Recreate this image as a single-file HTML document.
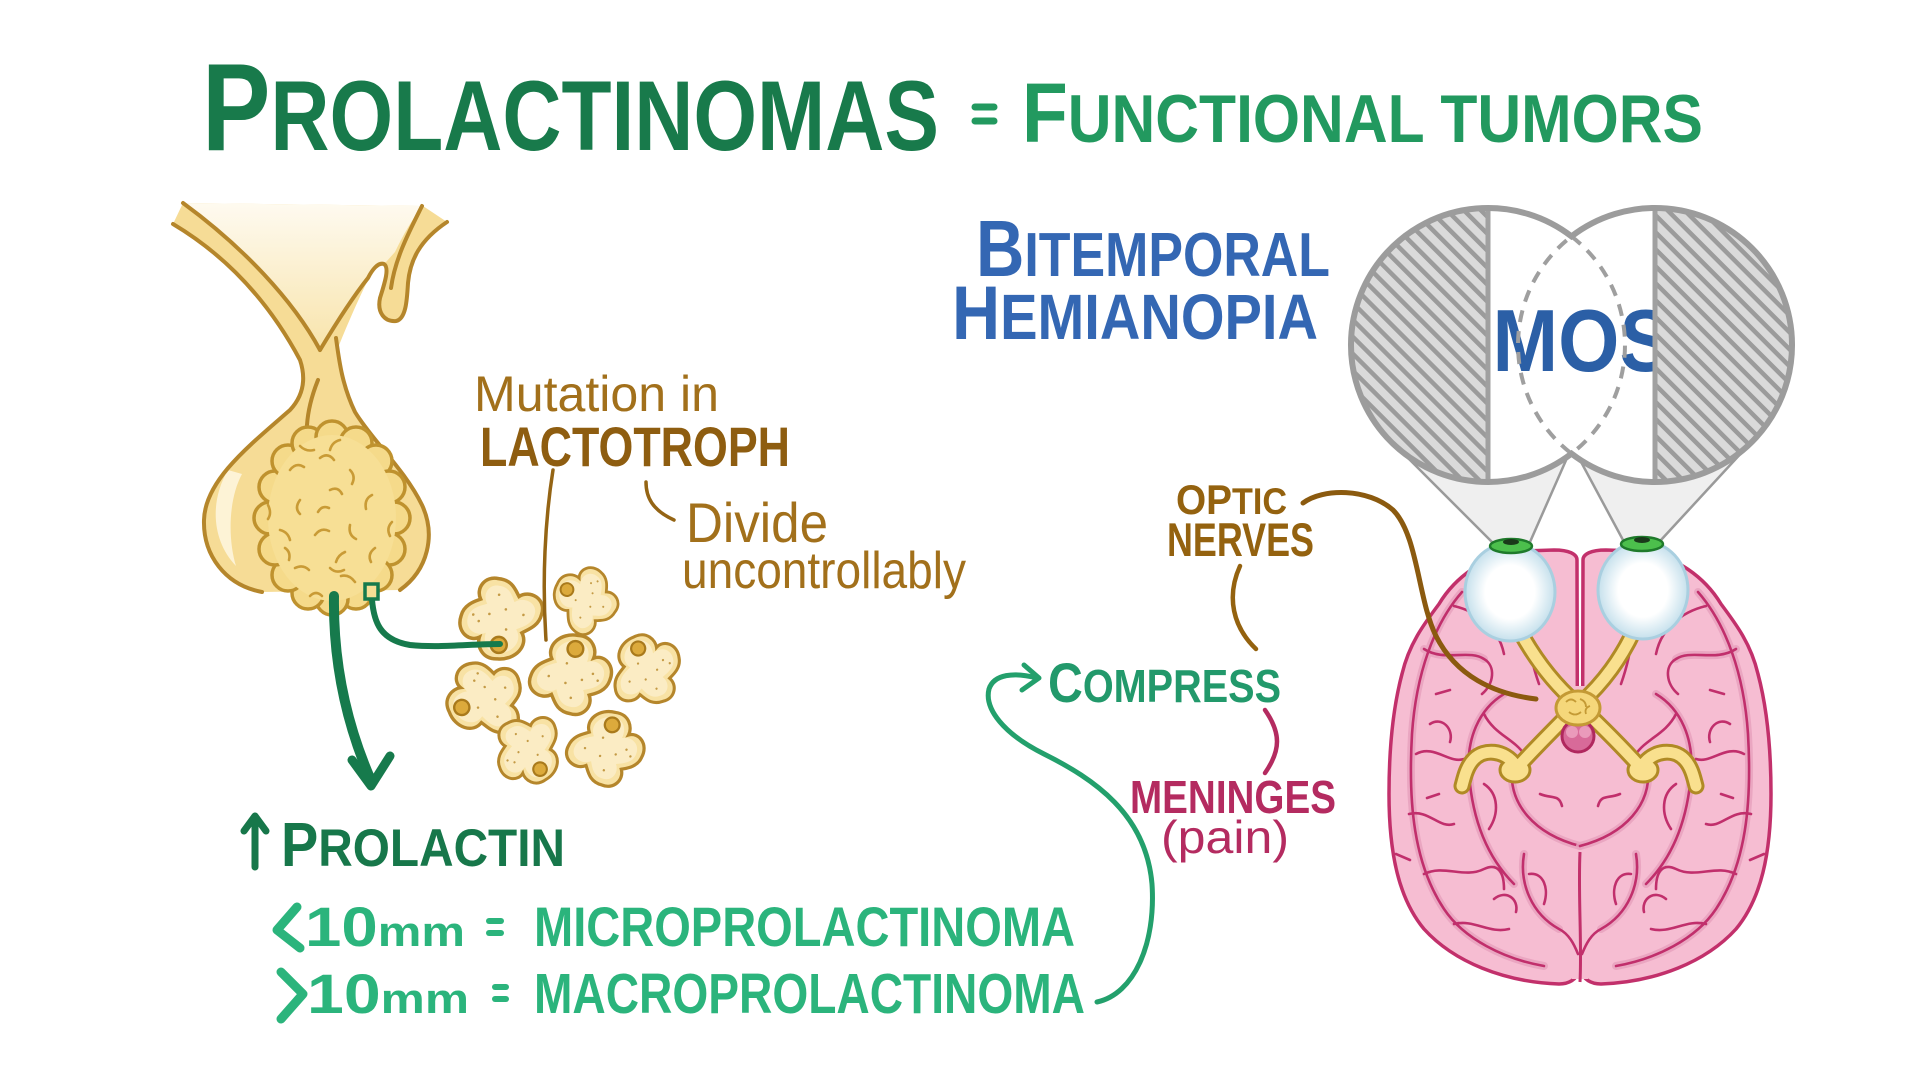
<!DOCTYPE html>
<html>
<head>
<meta charset="utf-8">
<style>
html,body{margin:0;padding:0;background:#ffffff;}
svg{display:block;}
text{font-family:"Liberation Sans",sans-serif;}
</style>
</head>
<body>
<svg width="1920" height="1080" viewBox="0 0 1920 1080" xmlns="http://www.w3.org/2000/svg">
<defs>
  <pattern id="hatch" patternUnits="userSpaceOnUse" width="12" height="12" patternTransform="rotate(45)">
    <rect width="12" height="12" fill="#dadada"/>
    <rect width="12" height="4.5" fill="#9b9b9b"/>
  </pattern>
  <linearGradient id="funnel" x1="0" y1="0" x2="0" y2="1">
    <stop offset="0" stop-color="#fefaf0"/>
    <stop offset="1" stop-color="#f8e4ab"/>
  </linearGradient>
  <radialGradient id="eyeg">
    <stop offset="0.55" stop-color="#ffffff"/>
    <stop offset="1" stop-color="#c5e0ec"/>
  </radialGradient>
  <g id="cell">
    <path d="M0,-40 C16,-42 22,-28 20,-20 C30,-26 44,-16 40,0 C38,12 26,16 22,18 C28,28 20,42 6,40 C-8,40 -12,30 -16,24 C-26,32 -44,24 -40,8 C-38,-4 -28,-8 -22,-12 C-30,-24 -18,-40 0,-40 Z" fill="#f8e2a4" stroke="#b5862b" stroke-width="3.5"/>
    <path d="M0,-34 C12,-35 16,-24 14,-15 C24,-20 36,-13 33,0 C31,9 20,12 15,14 C21,23 15,34 5,33 C-6,33 -9,24 -12,18 C-21,25 -36,19 -33,7 C-31,-3 -22,-6 -16,-9 C-24,-20 -14,-34 0,-34 Z" fill="#fbecc4"/>
    <circle cx="-6" cy="-10" r="1.3" fill="#c49a45"/>
    <circle cx="22" cy="-4" r="1.3" fill="#c49a45"/>
    <circle cx="-22" cy="6" r="1.3" fill="#c49a45"/>
    <circle cx="4" cy="24" r="1.3" fill="#c49a45"/>
    <circle cx="12" cy="4" r="1.3" fill="#c49a45"/>
    <circle cx="-4" cy="10" r="1.3" fill="#c49a45"/>
    <circle cx="28" cy="2" r="1.3" fill="#c49a45"/>
    <circle cx="0" cy="-26" r="8" fill="#dcaa3c" stroke="#a97a1c" stroke-width="2.5"/>
  </g>
  <clipPath id="midclip"><rect x="1504" y="200" width="167" height="290"/></clipPath>
</defs>

<!-- ================= TITLE ================= -->
<text x="202" y="150" textLength="737" lengthAdjust="spacingAndGlyphs" font-weight="bold" fill="#187a4b"><tspan font-size="124">P</tspan><tspan font-size="99">ROLACTINOMAS</tspan></text>
<line x1="975" y1="107" x2="994" y2="107" stroke="#22995f" stroke-width="7" stroke-linecap="round"/>
<line x1="975" y1="121" x2="994" y2="121" stroke="#22995f" stroke-width="7" stroke-linecap="round"/>
<text x="1022" y="142" textLength="681" lengthAdjust="spacingAndGlyphs" font-weight="bold" fill="#22995f"><tspan font-size="84">F</tspan><tspan font-size="68">UNCTIONAL TUMORS</tspan></text>

<!-- ================= PITUITARY ================= -->
<path d="M173,224 C225,255 268,300 300,360 C306,378 304,395 290,410 C250,445 205,480 204,520 C203,555 225,585 262,592 L400,590 C428,570 436,535 422,505 C405,470 372,440 355,412 C344,392 340,372 338,348 C345,330 358,300 368,280 C372,270 378,262 384,264 C390,268 384,285 380,298 C377,312 384,322 396,321 C406,319 407,300 408,283 C410,260 420,240 447,222 L423,206 L183,203 Z" fill="#f6dc96"/>
<path d="M183,203 C243,247 293,300 320,350 C335,325 352,298 368,278 C374,270 380,264 386,262 L395,252 C403,235 412,220 422,206 Z" fill="url(#funnel)"/>
<path d="M228,470 C210,500 211,540 236,566 C228,540 228,500 242,474 Z" fill="#fdf3d6"/>
<g fill="none" stroke="#b5862b" stroke-width="4" stroke-linecap="round" stroke-linejoin="round">
  <path d="M173,224 C225,255 268,300 300,360 C306,378 304,395 290,410 C250,445 205,480 204,520 C203,555 225,585 262,592"/>
  <path d="M183,203 C243,247 293,300 320,350"/>
  <path d="M320,350 C335,325 352,298 368,278 C372,270 378,262 384,264 C390,268 384,285 380,298 C377,312 384,322 396,321 C406,319 407,300 408,283 C410,260 420,240 447,222"/>
  <path d="M336,338 C339,360 342,385 355,412 C372,440 405,470 422,505 C436,535 428,570 400,590"/>
  <path d="M422,206 C410,230 395,258 391,288"/>
  <path d="M318,380 C312,395 308,410 307,425"/>
</g>

<!-- tumor -->
<g fill="#f5da8a" stroke="#bf922e" stroke-width="3.5">
  <circle cx="394" cy="518" r="16"/><circle cx="389" cy="549" r="16"/><circle cx="376" cy="575" r="16"/><circle cx="356" cy="593" r="16"/>
  <circle cx="332" cy="599" r="16"/><circle cx="308" cy="593" r="16"/><circle cx="288" cy="575" r="16"/><circle cx="275" cy="549" r="16"/>
  <circle cx="270" cy="518" r="16"/><circle cx="275" cy="487" r="16"/><circle cx="288" cy="461" r="16"/><circle cx="308" cy="443" r="16"/>
  <circle cx="332" cy="437" r="16"/><circle cx="356" cy="443" r="16"/><circle cx="376" cy="461" r="16"/><circle cx="389" cy="487" r="16"/>
</g>
<ellipse cx="332" cy="518" rx="64" ry="83" fill="#f7df95"/>
<g fill="none" stroke="#c99b36" stroke-width="2.6" stroke-linecap="round">
  <path d="M290,470 q6,-8 14,-3"/><path d="M320,458 q8,-6 14,2"/><path d="M350,470 q6,6 2,14"/>
  <path d="M372,495 q-8,4 -6,14"/><path d="M300,500 q-6,8 0,14"/><path d="M330,490 q8,-4 12,4"/>
  <path d="M280,530 q8,2 10,10"/><path d="M315,535 q6,-8 14,-4"/><path d="M350,525 q-2,10 6,14"/>
  <path d="M375,548 q-8,6 -4,14"/><path d="M295,568 q8,-4 14,2"/><path d="M330,568 q6,6 14,2"/>
  <path d="M355,582 q-6,-8 -14,-6"/><path d="M310,596 q6,-6 12,0"/><path d="M268,505 q4,8 0,14"/>
  <path d="M392,522 q-6,6 -2,14"/><path d="M340,440 q-8,2 -10,10"/><path d="M300,446 q6,6 14,4"/>
  <path d="M318,512 q4,-7 11,-4"/><path d="M345,552 q-7,3 -9,10"/><path d="M285,548 q6,4 4,12"/>
</g>

<!-- green arrow + link -->
<path d="M334,596 C333,660 345,720 370,778" fill="none" stroke="#167a4c" stroke-width="10" stroke-linecap="round"/>
<path d="M352,760 L371,786 L390,756" fill="none" stroke="#167a4c" stroke-width="9" stroke-linecap="round" stroke-linejoin="round"/>

<!-- cells -->
<g transform="translate(485,699) rotate(250) scale(0.95)"><use href="#cell"/></g>
<g transform="translate(529,750) rotate(150) scale(0.85)"><use href="#cell"/></g>
<g transform="translate(606,748) rotate(15) scale(0.92)"><use href="#cell"/></g>
<g transform="translate(646,670) rotate(-20) scale(0.88)"><use href="#cell"/></g>
<g transform="translate(571,674) rotate(10) scale(0.98)"><use href="#cell"/></g>
<g transform="translate(585,600) rotate(-60) scale(0.8)"><use href="#cell"/></g>
<g transform="translate(501,619) rotate(185)"><use href="#cell"/></g>

<path d="M372,600 C374,622 380,640 410,645 C440,648 470,644 500,644" fill="none" stroke="#167a4c" stroke-width="6" stroke-linecap="round"/>
<rect x="365" y="584" width="13" height="15" fill="#f7df95" stroke="#167a4c" stroke-width="3.5"/>

<!-- brown label lines -->
<path d="M553,470 C545,520 542,580 546,640" fill="none" stroke="#946414" stroke-width="3.5" stroke-linecap="round"/>
<path d="M646,482 C646,497 652,510 674,520" fill="none" stroke="#946414" stroke-width="3.5" stroke-linecap="round"/>

<!-- labels left -->
<text x="474" y="411" font-size="50" textLength="245" lengthAdjust="spacingAndGlyphs" fill="#a2701b">Mutation in</text>
<text x="480" y="466" font-size="56" font-weight="bold" textLength="310" lengthAdjust="spacingAndGlyphs" fill="#8e5d10">LACTOTROPH</text>
<text x="686" y="542" font-size="56" textLength="142" lengthAdjust="spacingAndGlyphs" fill="#a2701b">Divide</text>
<text x="682" y="588" font-size="52" textLength="284" lengthAdjust="spacingAndGlyphs" fill="#a2701b">uncontrollably</text>

<!-- bottom-left -->
<path d="M255,867 L255,817 M244,831 L255,816 L266,831" fill="none" stroke="#17774a" stroke-width="7" stroke-linecap="round" stroke-linejoin="round"/>
<text x="281" y="866" textLength="284" lengthAdjust="spacingAndGlyphs" font-weight="bold" fill="#17774a"><tspan font-size="62">P</tspan><tspan font-size="53">ROLACTIN</tspan></text>

<path d="M297,907 L277,930 L300,948" fill="none" stroke="#2bb47c" stroke-width="9" stroke-linecap="round" stroke-linejoin="round"/>
<text x="305" y="946" textLength="160" lengthAdjust="spacingAndGlyphs" font-weight="bold" fill="#2bb47c"><tspan font-size="56">10</tspan><tspan font-size="42">mm</tspan></text>
<line x1="489" y1="921" x2="501" y2="921" stroke="#2bb47c" stroke-width="6" stroke-linecap="round"/>
<line x1="489" y1="933" x2="501" y2="933" stroke="#2bb47c" stroke-width="6" stroke-linecap="round"/>
<text x="534" y="946" font-size="56" font-weight="bold" textLength="541" lengthAdjust="spacingAndGlyphs" fill="#2bb47c">MICROPROLACTINOMA</text>

<path d="M281,972 L303,994 L281,1019" fill="none" stroke="#2bb47c" stroke-width="9" stroke-linecap="round" stroke-linejoin="round"/>
<text x="307" y="1013" textLength="162" lengthAdjust="spacingAndGlyphs" font-weight="bold" fill="#2bb47c"><tspan font-size="56">10</tspan><tspan font-size="42">mm</tspan></text>
<line x1="495" y1="987" x2="506" y2="987" stroke="#2bb47c" stroke-width="6" stroke-linecap="round"/>
<line x1="495" y1="999" x2="506" y2="999" stroke="#2bb47c" stroke-width="6" stroke-linecap="round"/>
<text x="534" y="1013" font-size="57" font-weight="bold" textLength="551" lengthAdjust="spacingAndGlyphs" fill="#2bb47c">MACROPROLACTINOMA</text>

<!-- ================= MIDDLE LABELS ================= -->
<text x="976" y="276" textLength="354" lengthAdjust="spacingAndGlyphs" font-weight="bold" fill="#3467b3"><tspan font-size="80">B</tspan><tspan font-size="62">ITEMPORAL</tspan></text>
<text x="952" y="339" textLength="366" lengthAdjust="spacingAndGlyphs" font-weight="bold" fill="#3467b3"><tspan font-size="76">H</tspan><tspan font-size="64">EMIANOPIA</tspan></text>

<text x="1176" y="514" textLength="111" lengthAdjust="spacingAndGlyphs" font-weight="bold" fill="#94620f"><tspan font-size="42">OP</tspan><tspan font-size="37">TIC</tspan></text>
<text x="1167" y="556" font-size="47" font-weight="bold" textLength="147" lengthAdjust="spacingAndGlyphs" fill="#94620f">NERVES</text>
<path d="M1240,566 C1226,597 1233,627 1256,649" fill="none" stroke="#94620f" stroke-width="4.5" stroke-linecap="round"/>

<text x="1048" y="702" textLength="233" lengthAdjust="spacingAndGlyphs" font-weight="bold" fill="#22996b"><tspan font-size="56">C</tspan><tspan font-size="46">OMPRESS</tspan></text>
<path d="M1265,710 C1281,733 1281,750 1265,773" fill="none" stroke="#b42b60" stroke-width="4.5" stroke-linecap="round"/>
<text x="1130" y="813" font-size="46" font-weight="bold" textLength="206" lengthAdjust="spacingAndGlyphs" fill="#b42b60">MENINGES</text>
<text x="1161" y="853" font-size="46" textLength="128" lengthAdjust="spacingAndGlyphs" fill="#b42b60">(pain)</text>

<path d="M1097,1002 C1134,994 1156,944 1152,884 C1146,814 1094,779 1044,754 C1004,734 984,709 989,689 C994,674 1014,672 1037,678" fill="none" stroke="#23a06c" stroke-width="5" stroke-linecap="round"/>
<path d="M1024,665 L1039,678 L1022,690" fill="none" stroke="#23a06c" stroke-width="5" stroke-linecap="round" stroke-linejoin="round"/>

<!-- ================= VISUAL FIELD ================= -->
<g transform="translate(-16,-6)">
<path d="M1418,458 L1583,464 L1546,548 L1508,548 Z" fill="#efefef"/>
<path d="M1596,466 L1760,456 L1677,546 L1639,546 Z" fill="#efefef"/>
<g stroke="#9a9a9a" stroke-width="2.5" stroke-linecap="round">
  <line x1="1418" y1="458" x2="1508" y2="548"/>
  <line x1="1583" y1="464" x2="1546" y2="548"/>
  <line x1="1596" y1="466" x2="1639" y2="546"/>
  <line x1="1760" y1="456" x2="1677" y2="546"/>
</g>
</g>
<g transform="translate(-16,0)">
<path d="M1587.5,236.4 A137,137 0 1,0 1587.5,453.6 A137,137 0 1,0 1587.5,236.4 Z" fill="#ffffff"/>
<path d="M1504,208 A137,137 0 0,0 1504,482 Z" fill="url(#hatch)"/>
<path d="M1671,208 A137,137 0 0,1 1671,482 Z" fill="url(#hatch)"/>
<g clip-path="url(#midclip)">
  <text x="1456" y="371" font-size="88" font-weight="bold" textLength="232" lengthAdjust="spacingAndGlyphs" fill="#2b5fa6">SMOS</text>
</g>
<path d="M1587.5,236.4 A137,137 0 0,1 1587.5,453.6 A137,137 0 0,1 1587.5,236.4 Z" fill="none" stroke="#9f9f9f" stroke-width="4" stroke-dasharray="12,9"/>
<line x1="1504" y1="209" x2="1504" y2="481" stroke="#a0a0a0" stroke-width="5"/>
<line x1="1671" y1="209" x2="1671" y2="481" stroke="#a0a0a0" stroke-width="5"/>
<path d="M1587.5,236.4 A137,137 0 1,0 1587.5,453.6 A137,137 0 1,0 1587.5,236.4 Z" fill="none" stroke="#9c9c9c" stroke-width="6"/>
</g>

<!-- ================= BRAIN ================= -->
<g transform="translate(-16,-6)">
<g fill="#f6bdd2" stroke="#c2306b" stroke-width="3.5" stroke-linejoin="round">
  <path d="M1593,566 C1593,560 1585,556 1570,556 L1540,557 C1500,560 1470,585 1455,610 C1440,630 1425,650 1418,680 C1410,710 1405,750 1405,800 C1405,860 1415,905 1440,935 C1470,968 1520,988 1575,990 C1585,990 1593,985 1594,978 Z"/>
  <path d="M1599,566 C1599,560 1607,556 1622,556 L1652,557 C1692,560 1722,585 1737,610 C1752,630 1767,650 1774,680 C1782,710 1787,750 1787,800 C1787,860 1777,905 1752,935 C1722,968 1672,988 1617,990 C1607,990 1599,985 1598,978 Z"/>
</g>
<path d="M1560,692 L1632,692 L1645,800 L1596,858 L1547,800 Z" fill="#f6bdd2"/>
<rect x="1588" y="850" width="16" height="135" fill="#f6bdd2"/>
<g id="sulciL">
  <g fill="none" stroke="#e9a2bf" stroke-width="8" stroke-linecap="round" opacity="0.85">
    <path d="M1478,598 C1450,630 1432,680 1428,740 C1424,810 1430,870 1460,915 C1480,945 1520,965 1560,972"/>
    <path d="M1520,700 C1495,715 1482,745 1485,780 C1488,820 1500,860 1530,890"/>
    <path d="M1540,860 C1535,890 1548,920 1575,935"/>
    <path d="M1528,775 C1525,810 1550,840 1596,852"/>
    <path d="M1440,655 C1460,668 1485,655 1500,665"/>
  </g>
  <g fill="none" stroke="#c12f6c" stroke-width="2.6" stroke-linecap="round">
    <path d="M1478,598 C1450,630 1432,680 1428,740 C1424,810 1430,870 1460,915 C1480,945 1520,965 1560,972"/>
    <path d="M1440,655 C1460,668 1485,655 1500,665 C1512,672 1510,690 1498,700"/>
    <path d="M1470,612 C1495,618 1515,635 1520,660"/>
    <path d="M1520,700 C1495,715 1482,745 1485,780 C1488,820 1500,860 1530,890"/>
    <path d="M1500,720 C1510,740 1530,745 1540,760"/>
    <path d="M1432,760 C1450,750 1465,770 1480,765"/>
    <path d="M1425,820 C1445,815 1455,835 1470,830"/>
    <path d="M1440,880 C1460,870 1480,885 1500,875 C1515,868 1520,880 1520,895"/>
    <path d="M1470,930 C1490,925 1505,940 1525,935"/>
    <path d="M1540,860 C1535,890 1548,920 1575,935 C1585,940 1590,950 1594,960"/>
    <path d="M1528,775 C1525,810 1550,840 1596,852"/>
    <path d="M1545,880 C1560,878 1565,895 1560,910"/>
    <path d="M1556,800 C1568,805 1575,800 1578,812"/>
    <path d="M1452,700 l14,-4"/>
    <path d="M1545,610 C1540,640 1548,670 1555,690"/>
    <path d="M1500,790 C1515,800 1515,820 1505,835"/>
    <path d="M1412,860 l14,6"/>
    <path d="M1455,800 l-12,4"/>
    <path d="M1446,730 C1458,722 1470,735 1466,748"/>
    <path d="M1510,905 C1522,895 1535,905 1532,918"/>
  </g>
</g>
<use href="#sulciL" transform="translate(3192,0) scale(-1,1)"/>
<path d="M1596,858 C1594,900 1598,950 1596,988" fill="none" stroke="#c2306b" stroke-width="3"/>

<!-- optic nerves -->
<g fill="none" stroke="#b08a25" stroke-width="17" stroke-linecap="round" stroke-linejoin="round">
  <path d="M1532,630 C1550,665 1570,690 1593,710"/>
  <path d="M1654,628 C1638,665 1618,690 1596,710"/>
  <path d="M1593,712 C1575,730 1550,755 1532,775"/>
  <path d="M1596,712 C1615,730 1640,755 1658,775"/>
  <path d="M1532,772 C1520,755 1500,755 1490,765 C1482,773 1480,785 1478,792"/>
  <path d="M1658,772 C1670,755 1690,755 1700,765 C1708,773 1710,785 1712,792"/>
</g>
<g fill="#f9e08e" stroke="#b08a25" stroke-width="3">
  <ellipse cx="1531" cy="776" rx="15" ry="12"/>
  <ellipse cx="1659" cy="776" rx="15" ry="12"/>
</g>
<g fill="none" stroke="#f9e08e" stroke-width="11" stroke-linecap="round" stroke-linejoin="round">
  <path d="M1532,630 C1550,665 1570,690 1593,710"/>
  <path d="M1654,628 C1638,665 1618,690 1596,710"/>
  <path d="M1593,712 C1575,730 1550,755 1532,775"/>
  <path d="M1596,712 C1615,730 1640,755 1658,775"/>
  <path d="M1532,772 C1520,755 1500,755 1490,765 C1482,773 1480,785 1478,792"/>
  <path d="M1658,772 C1670,755 1690,755 1700,765 C1708,773 1710,785 1712,792"/>
</g>
<circle cx="1594" cy="742" r="16" fill="#d86a99" stroke="#b0285e" stroke-width="3"/>
<circle cx="1588" cy="738" r="6" fill="#ea9abb"/>
<circle cx="1601" cy="738" r="6" fill="#ea9abb"/>
<ellipse cx="1594" cy="714" rx="22" ry="17" fill="#f5d77a" stroke="#c49a35" stroke-width="3"/>
<g fill="none" stroke="#c49a35" stroke-width="1.8">
  <path d="M1582,708 q5,-5 10,0"/><path d="M1596,705 q6,2 6,8"/><path d="M1585,718 q6,5 12,0"/><path d="M1602,720 q-2,-6 4,-8"/>
</g>

<!-- eyes -->
<ellipse cx="1526" cy="598" rx="45" ry="49" fill="url(#eyeg)" stroke="#a9cfe0" stroke-width="3"/>
<ellipse cx="1659" cy="596" rx="45" ry="49" fill="url(#eyeg)" stroke="#a9cfe0" stroke-width="3"/>
<ellipse cx="1527" cy="552" rx="21" ry="7" fill="#4cbf4c" stroke="#1f7a2b" stroke-width="2.5"/>
<ellipse cx="1658" cy="550" rx="21" ry="7" fill="#4cbf4c" stroke="#1f7a2b" stroke-width="2.5"/>
<ellipse cx="1527" cy="548" rx="8" ry="3" fill="#1a3a1a"/>
<ellipse cx="1658" cy="546" rx="8" ry="3" fill="#1a3a1a"/>
</g>

<!-- brown connector (over brain) -->
<path d="M1303,503 C1323,488 1368,488 1393,510 C1418,535 1418,600 1436,636 C1456,676 1494,694 1536,699" fill="none" stroke="#8b5a0f" stroke-width="5" stroke-linecap="round"/>
</svg>
</body>
</html>
